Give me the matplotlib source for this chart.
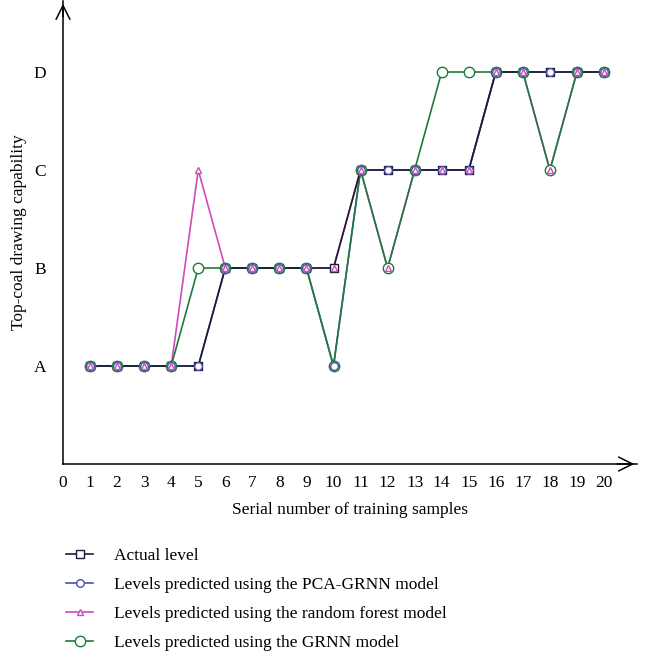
import matplotlib
matplotlib.use("Agg")
from matplotlib import pyplot as plt
from matplotlib.lines import Line2D

plt.rcParams['font.family'] = ['Liberation Serif', 'DejaVu Serif']

samples = list(range(1, 21))
level_names = ["A", "B", "C", "D"]

# levels coded A=1, B=2, C=3, D=4
actual = [1, 1, 1, 1, 1, 2, 2, 2, 2, 2, 3, 3, 3, 3, 3, 4, 4, 4, 4, 4]
pca_grnn = [1, 1, 1, 1, 1, 2, 2, 2, 2, 1, 3, 3, 3, 3, 3, 4, 4, 4, 4, 4]
random_forest = [1, 1, 1, 1, 3, 2, 2, 2, 2, 2, 3, 2, 3, 3, 3, 4, 4, 3, 4, 4]
grnn = [1, 1, 1, 1, 2, 2, 2, 2, 2, 1, 3, 2, 3, 4, 4, 4, 4, 3, 4, 4]

labels = [
    "Actual level",
    "Levels predicted using the PCA-GRNN model",
    "Levels predicted using the random forest model",
    "Levels predicted using the GRNN model",
]

# (values, color, marker, size, line zorder, marker zorder)
series = [
    (actual, "#1c1a36", "s", 5.5, 4, 3),
    (pca_grnn, "#4a4fb0", "o", 5.5, 2, 5.5),
    (random_forest, "#d04ab8", "^", 5, 1, 6),
    (grnn, "#1e7a3c", "o", 7.5, 3, 5),
]

fig = plt.figure(figsize=(6.58, 6.61), dpi=100)
ax = fig.add_axes([63 / 658, 1 - 464 / 661, (637 - 63) / 658, 463 / 661])

handles = []
for vals, c, m, ms, lz, mz in series:
    ax.plot(samples, vals, color=c, lw=1.2, zorder=lz)
    ax.plot(samples, vals, ls="none", marker=m, ms=ms, mfc="white", mec=c,
            mew=1.0, zorder=mz + 10)
    handles.append(Line2D([], [], color=c, lw=1.2, marker=m, ms=ms,
                          mfc="white", mec=c, mew=1.0))

ax.set_xlim(0, (637 - 63) / 27.05)
ax.set_ylim(0, 463 / 98.0)
ax.set_xticks(range(0, 21))
ax.set_yticks([1, 2, 3, 4])
ax.set_yticklabels(level_names)
ax.tick_params(length=0, labelsize=12.5, pad=8)
ax.tick_params(axis="y", pad=12)
for s in ["top", "right"]:
    ax.spines[s].set_visible(False)
for s in ["left", "bottom"]:
    ax.spines[s].set_linewidth(1.1)

# arrow heads at the ends of the axes
ax.annotate("", xy=(1.0, 0), xytext=(0.96, 0), xycoords="axes fraction",
            arrowprops=dict(arrowstyle="->", lw=1.1, mutation_scale=25, color="black"),
            annotation_clip=False)
ax.annotate("", xy=(0, 1.0), xytext=(0, 0.96), xycoords="axes fraction",
            arrowprops=dict(arrowstyle="->", lw=1.1, mutation_scale=25, color="black"),
            annotation_clip=False)

ax.set_xlabel("Serial number of training samples", fontsize=12.5, labelpad=8)
ax.set_ylabel("Top-coal drawing capability", fontsize=12.5)
ax.yaxis.set_label_coords((27 - 63) / 574, 0.5)

fig.legend(handles, labels, loc="upper left",
           bbox_to_anchor=(50 / 658, 1 - 532 / 661), frameon=False, fontsize=12.5,
           handlelength=1.6, labelspacing=0.75, handletextpad=1.2)

fig.savefig("out.png", dpi=100)
